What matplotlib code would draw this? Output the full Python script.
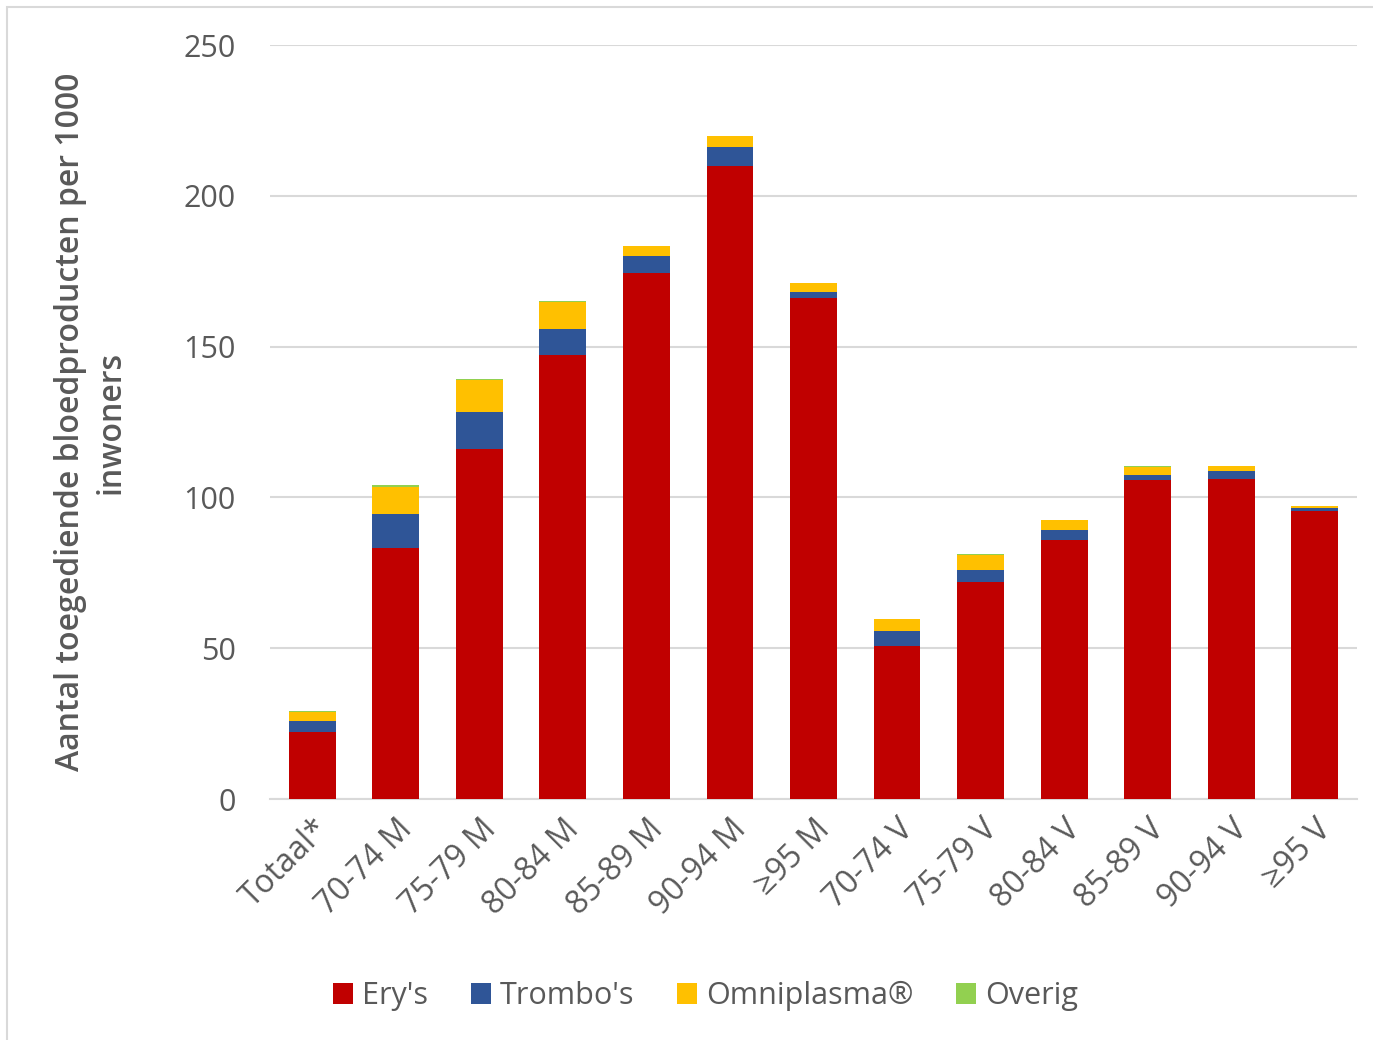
import numpy as np
import matplotlib.pyplot as plt
from matplotlib.patches import Rectangle

categories = ['Totaal*', '70-74 M', '75-79 M', '80-84 M', '85-89 M', '90-94 M', '≥95 M',
              '70-74 V', '75-79 V', '80-84 V', '85-89 V', '90-94 V', '≥95 V']
erys = [22.3, 83.3, 116.0, 147.1, 174.5, 210.0, 166.2, 50.8, 71.9, 85.9, 105.8, 106.2, 95.5]
trombos = [3.5, 11.2, 12.3, 8.7, 5.4, 6.3, 2.0, 4.9, 3.9, 3.3, 1.5, 2.6, 1.1]
omniplasma = [2.9, 9.0, 10.6, 9.1, 3.5, 3.5, 2.9, 4.0, 5.1, 3.3, 2.7, 1.6, 0.5]
overig = [0.5, 0.5, 0.4, 0.2, 0.1, 0.1, 0.1, 0.1, 0.4, 0.1, 0.4, 0.1, 0.1]

reeksen = ["Ery's", "Trombo's", "Omniplasma®", "Overig"]
kleuren = ['#C00000', '#2F5597', '#FFC000', '#92D050']

tekst = '#595959'
plt.rcParams['font.family'] = ['Open Sans', 'DejaVu Sans']

fig = plt.figure(figsize=(13.73, 10.4), dpi=100)
fig.patches.append(Rectangle((0.005, -0.01), 1.2, 1.0035, transform=fig.transFigure,
                             fill=False, edgecolor='#D9D9D9', linewidth=1.5))
ax = fig.add_axes([0.197, 0.2317, 0.791, 0.725])

x = np.arange(len(categories))
onder = np.zeros(len(categories))
for waarden, naam, kleur in zip([erys, trombos, omniplasma, overig], reeksen, kleuren):
    ax.bar(x, waarden, width=0.56, bottom=onder, color=kleur, label=naam, zorder=3)
    onder += np.array(waarden)

ax.set_xlim(-0.5, len(categories) - 0.5)
ax.set_ylim(0, 250)
ax.set_yticks(range(0, 251, 50))
ax.grid(axis='y', color='#D9D9D9', linewidth=1.5, zorder=0)
for s in ['top', 'right', 'left']:
    ax.spines[s].set_visible(False)
ax.spines['bottom'].set_color('#D9D9D9')
ax.spines['bottom'].set_linewidth(1.5)
ax.tick_params(axis='y', length=0, colors=tekst, labelsize=22, pad=25)
ax.tick_params(axis='x', length=0, colors=tekst, labelsize=23, pad=10)
ax.set_xticks(x)
ax.set_xticklabels(categories, rotation=45, ha='right', rotation_mode='anchor')

ax.set_ylabel('Aantal toegediende bloedproducten per 1000\ninwoners', color=tekst,
              fontsize=23, fontweight='semibold', labelpad=40, linespacing=1.3)

leg = fig.legend(loc='center', bbox_to_anchor=(0.514, 0.042), ncol=4, frameon=False,
                 fontsize=22, handlelength=0.65, handleheight=0.65, handletextpad=0.3,
                 columnspacing=1.4)
for t in leg.get_texts():
    t.set_color(tekst)

fig.savefig('out.png', dpi=100)
